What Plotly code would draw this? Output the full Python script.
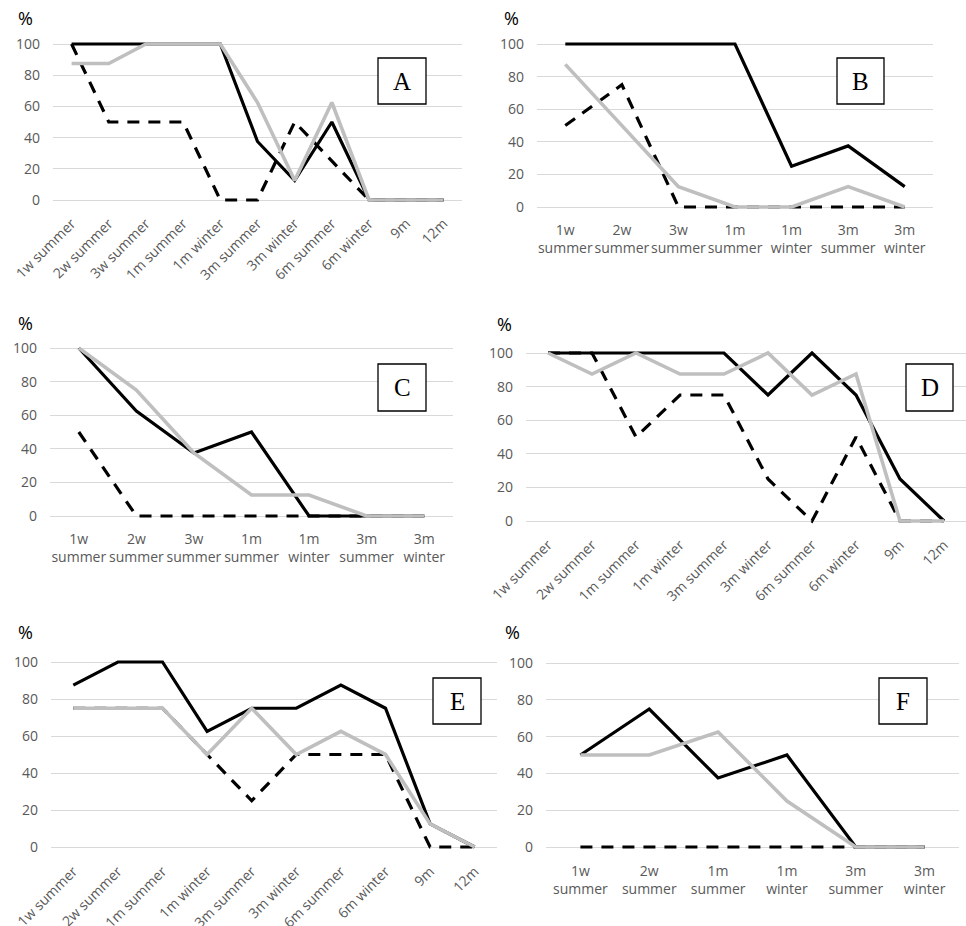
import plotly.graph_objects as go

W, H = 966, 926

# ---------------- data ----------------
cats_long = ["1w summer", "2w summer", "3w summer", "1m summer", "1m winter",
             "3m summer", "3m winter", "6m summer", "6m winter", "9m", "12m"]
cats_short7 = ["1w summer", "2w summer", "3w summer", "1m summer", "1m winter",
               "3m summer", "3m winter"]
cats_10 = ["1w summer", "2w summer", "1m summer", "1m winter", "3m summer",
           "3m winter", "6m summer", "6m winter", "9m", "12m"]
cats_6 = ["1w summer", "2w summer", "1m summer", "1m winter", "3m summer", "3m winter"]

A_black = [100, 100, 100, 100, 100, 37.5, 12.5, 50, 0, 0, 0]
A_gray = [87.5, 87.5, 100, 100, 100, 62.5, 12.5, 62.5, 0, 0, 0]
A_dash = [100, 50, 50, 50, 0, 0, 50, 25, 0, 0, 0]

B_black = [100, 100, 100, 100, 25, 37.5, 12.5]
B_gray = [87.5, 50, 12.5, 0, 0, 12.5, 0]
B_dash = [50, 75, 0, 0, 0, 0, 0]

C_black = [100, 62.5, 37.5, 50, 0, 0, 0]
C_gray = [100, 75, 37.5, 12.5, 12.5, 0, 0]
C_dash = [50, 0, 0, 0, 0, 0, 0]

D_black = [100, 100, 100, 100, 100, 75, 100, 75, 25, 0]
D_gray = [100, 87.5, 100, 87.5, 87.5, 100, 75, 87.5, 0, 0]
D_dash = [100, 100, 50, 75, 75, 25, 0, 50, 0, 0]

E_black = [87.5, 100, 100, 62.5, 75, 75, 87.5, 75, 12.5, 0]
E_gray = [75, 75, 75, 50, 75, 50, 62.5, 50, 12.5, 0]
E_dash = [75, 75, 75, 50, 25, 50, 50, 50, 0, 0]

F_black = [50, 75, 37.5, 50, 0, 0]
F_gray = [50, 50, 62.5, 25, 0, 0]
F_dash = [0, 0, 0, 0, 0, 0]

y_ticks = [0, 20, 40, 60, 80, 100]

# panel: letter, cats, black, gray, dash, x0px, x1px, y100px, y0px, rotated, box(x0,y0,x1,y1), pct(x,y)
panels = [
    ("A", cats_long, A_black, A_gray, A_dash, 53, 462, 44, 200, True, (378, 58, 426, 104), (25, 18)),
    ("B", cats_short7, B_black, B_gray, B_dash, 537, 933, 44, 207, False, (837, 58, 884, 104), (511, 18)),
    ("C", cats_short7, C_black, C_gray, C_dash, 50, 453, 348, 516, False, (378, 364, 426, 411), (25, 323)),
    ("D", cats_10, D_black, D_gray, D_dash, 526, 966, 353, 521, True, (906, 364, 953, 411), (504, 324)),
    ("E", cats_10, E_black, E_gray, E_dash, 51, 497, 662, 847, True, (433, 678, 481, 724), (25, 632)),
    ("F", cats_6, F_black, F_gray, F_dash, 546, 959, 663, 847, False, (879, 678, 927, 724), (512, 632)),
]

def px(x):
    return x / W

def py(y):
    return 1 - y / H

fig = go.Figure()
layout = dict(width=W, height=H, margin=dict(l=0, r=0, t=0, b=0, autoexpand=False),
              plot_bgcolor="rgba(0,0,0,0)", paper_bgcolor="white", showlegend=False,
              template="none")
shapes = []
annotations = []
tick_font = dict(family="Open Sans", size=14, color="#595959")
PAD = 3

for i, (letter, cats, blk, gry, dsh, x0, x1, y100, y0, rot, box, pct) in enumerate(panels):
    k = "" if i == 0 else str(i + 1)
    xa, ya = "x" + k, "y" + k
    u = (y0 - y100) / 100.0
    n = len(cats)
    fig.add_trace(go.Scatter(x=cats, y=blk, mode="lines", xaxis=xa, yaxis=ya,
                             line=dict(color="black", width=3.2)))
    fig.add_trace(go.Scatter(x=cats, y=dsh, mode="lines", xaxis=xa, yaxis=ya,
                             line=dict(color="black", width=3.2, dash="12px,9px")))
    fig.add_trace(go.Scatter(x=cats, y=gry, mode="lines", xaxis=xa, yaxis=ya,
                             line=dict(color="#bfbfbf", width=3.6)))
    if rot:
        ticktext = cats
        angle = -45
    else:
        ticktext = [c.replace(" ", "<br>") for c in cats]
        angle = 0
    layout["xaxis" + k] = dict(domain=[px(x0), px(min(x1, W))], anchor=ya, type="category",
                               range=[-0.5, n - 0.5], showgrid=False, zeroline=False,
                               showline=False, ticks="", tickvals=cats, ticktext=ticktext,
                               tickangle=angle, tickfont=tick_font, automargin=False,
                               ticklabelstandoff=7 if rot else 8)
    layout["yaxis" + k] = dict(domain=[py(y0 + PAD * u), py(y100 - PAD * u)], anchor=xa,
                               range=[-PAD, 100 + PAD], tickvals=y_ticks,
                               showgrid=True, gridcolor="#d9d9d9", gridwidth=1,
                               zeroline=False, showline=False, ticks="", automargin=False,
                               tickfont=tick_font, ticklabelstandoff=12)
    bx0, by0, bx1, by1 = box
    shapes.append(dict(type="rect", xref="paper", yref="paper",
                       x0=px(bx0), x1=px(bx1), y0=py(by1), y1=py(by0),
                       line=dict(color="black", width=1.3), fillcolor="white", layer="above"))
    annotations.append(dict(xref="paper", yref="paper", x=px((bx0 + bx1) / 2),
                            y=py((by0 + by1) / 2), text=letter, showarrow=False,
                            font=dict(family="Liberation Serif", size=25, color="black"),
                            xanchor="center", yanchor="middle"))
    annotations.append(dict(xref="paper", yref="paper", x=px(pct[0]), y=py(pct[1]),
                            text="%", showarrow=False,
                            font=dict(family="Open Sans", size=18, color="black"),
                            xanchor="center", yanchor="middle"))

layout["shapes"] = shapes
layout["annotations"] = annotations
fig.update_layout(**layout)
fig.write_html("out.html", config={"displayModeBar": False},
               post_script="document.body.style.margin='0';document.body.style.overflow='hidden';")
